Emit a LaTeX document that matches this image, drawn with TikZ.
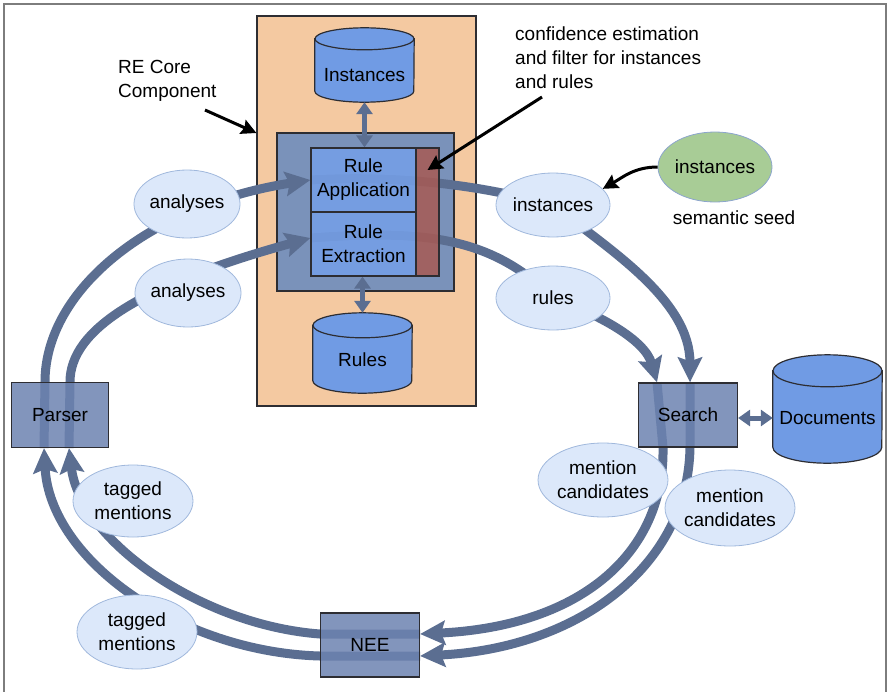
\documentclass[tikz,border=0pt]{standalone}
\usepackage{fontspec}
\setmainfont{Liberation Sans}
\usetikzlibrary{shapes.geometric,arrows.meta,calc}

\pgfdeclarelayer{back}
\pgfdeclarelayer{mid}
\pgfdeclarelayer{flow}
\pgfsetlayers{back,mid,flow,main}

\definecolor{flowc}{RGB}{91,110,145}
\definecolor{boxc}{RGB}{108,131,176}
\definecolor{enginec}{RGB}{122,146,186}
\definecolor{rulec}{RGB}{117,160,233}
\definecolor{barc}{RGB}{167,90,83}
\definecolor{cylc}{RGB}{112,155,228}
\definecolor{corec}{RGB}{244,201,161}
\definecolor{bubc}{RGB}{220,232,250}
\definecolor{bubline}{RGB}{160,184,220}
\definecolor{seedc}{RGB}{168,204,150}
\definecolor{seedline}{RGB}{140,165,205}
\definecolor{framec}{RGB}{125,125,125}
\definecolor{edgec}{RGB}{45,45,50}

% cylinder body behind a named (invisible) rectangle node: #1 name, #2 half width, #3 cap radius
\newcommand\drawcylinder[3]{%
  \begin{pgfonlayer}{mid}
    \filldraw[fill=cylc, draw=edgec, line width=1.2pt]
      ($(#1.north west)+(0,-#3)$) -- ($(#1.south west)+(0,#3)$)
      arc[start angle=180, end angle=360, x radius=#2, y radius=#3]
      -- ($(#1.north east)+(0,-#3)$) -- cycle;
    \filldraw[fill=cylc, draw=edgec, line width=1.2pt]
      ($(#1.north)+(0,-#3)$) ellipse[x radius=#2, y radius=#3];
  \end{pgfonlayer}}

\tikzset{
  block/.style={draw=edgec, line width=1.2pt, fill=boxc, fill opacity=0.85,
    text opacity=1, draw opacity=1, inner sep=0pt},
  rulebox/.style={block, fill=rulec, align=center},
  bubble/.style={ellipse, draw=bubline, line width=0.8pt, fill=bubc,
    inner sep=0pt, align=center},
  cylbody/.style={draw=none, inner sep=0pt},
  flowline/.style={draw=flowc, line width=9pt},
  flow/.style={flowline, -{Stealth[length=25pt,width=24pt,inset=4pt]}},
  dbl/.style={draw=flowc, line width=5pt,
    {Triangle[length=12pt,width=16pt]}-{Triangle[length=12pt,width=16pt]}},
  note/.style={draw=black, line width=3pt, -{Stealth[length=15pt,width=15pt,inset=2pt]}},
}

\begin{document}
\begin{tikzpicture}[x=1pt, y=1pt, font=\fontsize{19}{24}\selectfont]
\useasboundingbox (0,0) rectangle (889,-691);

% outer frame and the core component panel
\begin{pgfonlayer}{back}
  \draw[framec, line width=2pt] (4,-4) rectangle (886,-720);
  \node[draw=edgec, line width=1.2pt, fill=corec, minimum width=219pt,
    minimum height=390pt, inner sep=0pt] (core) at (366.5,-211) {};
\end{pgfonlayer}

% rule engine
\begin{pgfonlayer}{mid}
  \node[draw=edgec, line width=1.2pt, fill=enginec, minimum width=177pt,
    minimum height=158pt, inner sep=0pt] (engine) at (365.5,-212) {};
\end{pgfonlayer}
\node[rulebox, minimum width=105pt, minimum height=64pt] (ruleapp) at (363.5,-180) {Rule\\Application};
\node[rulebox, minimum width=105pt, minimum height=64pt] (ruleext) at (363.5,-244) {Rule\\Extraction};
\node[block, fill=barc, minimum width=23pt, minimum height=128pt] (filter) at (427.5,-212) {};

% stores
\node[cylbody, minimum width=99pt, minimum height=74pt] (instcyl) at (364.5,-65) {};
\drawcylinder{instcyl}{49.5pt}{11pt}
\node (insttxt) at (364.5,-75) {Instances};

\node[cylbody, minimum width=99pt, minimum height=80pt] (rulescyl) at (362.5,-353) {};
\drawcylinder{rulescyl}{49.5pt}{12.5pt}
\node (rulestxt) at (362.5,-360) {Rules};

\node[cylbody, minimum width=109pt, minimum height=108pt] (docs) at (827.5,-409) {};
\drawcylinder{docs}{54.5pt}{16pt}
\node (docstxt) at (827.5,-418) {Documents};

% processing steps
\node[block, minimum width=97pt, minimum height=65pt] (parser) at (60,-415) {Parser};
\node[block, minimum width=99pt, minimum height=64pt] (search) at (688,-415) {Search};
\node[block, minimum width=99pt, minimum height=64pt] (nee) at (370,-645) {NEE};

% data passed along the loop
\node[bubble, minimum width=104pt, minimum height=68pt] (an1) at (187,-204) {analyses};
\node[bubble, minimum width=102pt, minimum height=68pt] (an2) at (188,-293) {analyses};
\node[bubble, minimum width=114pt, minimum height=64pt] (instE) at (553,-205) {instances};
\node[bubble, minimum width=114pt, minimum height=64pt] (rulesE) at (553,-298) {rules};
\node[bubble, minimum width=124pt, minimum height=74pt] (mc1) at (603,-480) {mention\\candidates};
\node[bubble, minimum width=126pt, minimum height=76pt] (mc2) at (730,-508) {mention\\candidates};
\node[bubble, minimum width=120pt, minimum height=72pt] (tm1) at (133,-501) {tagged\\mentions};
\node[bubble, minimum width=120pt, minimum height=74pt] (tm2) at (137,-632) {tagged\\mentions};
\node[bubble, fill=seedc, draw=seedline, minimum width=114pt, minimum height=70pt] (seed) at (715,-167) {instances};

% annotations
\node (seedlbl) at (734,-218) {semantic seed};
\node[align=left, anchor=west, inner sep=0pt] (corelbl) at (118,-80.5) {RE Core\\Component};
\node[align=left, anchor=west, inner sep=0pt] (conflbl) at (515,-58) {confidence estimation\\and filter for instances\\and rules};
\coordinate (corestart) at (205,-110);
\coordinate (confstart) at (542,-97);

\begin{pgfonlayer}{flow}
  % Parser -> rule engine
  \draw[flow] ([xshift=-16pt]parser.south) -- ([xshift=-15pt]parser.north)
    .. controls (45,-290) and (150,-205) .. (ruleapp.west);
  \draw[flow] ([xshift=9pt]parser.south) -- ([xshift=10pt]parser.north)
    .. controls (70,-330) and (140,-285) .. ([yshift=6pt]ruleext.west);
  % rule engine -> Search
  \draw[flowline] (ruleapp.west) .. controls (400,-175) and (480,-185) .. (instE.center);
  \draw[flow] (instE.center) .. controls (610,-250) and (690,-300) .. ([xshift=2pt]search.north);
  \draw[flowline] ([yshift=6pt]ruleext.west) .. controls (420,-230) and (490,-235) .. (rulesE.center);
  \draw[flow] (rulesE.center) .. controls (600,-315) and (645,-340) .. ([xshift=-31pt]search.north);
  % Search -> NEE
  \draw[flow] ([xshift=2pt]search.north) -- ([xshift=2pt]search.south)
    .. controls (688,-565) and (580,-648) .. ([yshift=-11pt]nee.east);
  \draw[flow] ([xshift=-31pt]search.north) -- ([xshift=-25pt]search.south)
    .. controls (665,-550) and (585,-626) .. ([yshift=11pt]nee.east);
  % NEE -> Parser
  \draw[flow] ([yshift=11pt]nee.east) -- ([yshift=11pt]nee.west)
    .. controls (200,-625) and (80,-540) .. ([xshift=9pt]parser.south);
  \draw[flow] ([yshift=-11pt]nee.east) -- ([yshift=-11pt]nee.west)
    .. controls (180,-652) and (50,-560) .. ([xshift=-16pt]parser.south);
  % store access
  \draw[dbl] (instcyl.south) -- (instcyl.south |- ruleapp.north);
  \draw[dbl] (rulescyl.north |- ruleext.south) -- (rulescyl.north);
  \draw[dbl] ([yshift=-3pt]search.east) -- ([yshift=-3pt]search.east -| docs.west);
\end{pgfonlayer}

% pointers
\draw[note] (corestart) -- ([yshift=78pt]core.west);
\draw[note] (confstart) -- ([yshift=42pt]filter.center);
\draw[note] (seed.west) to[out=180, in=30] (instE.18);
\end{tikzpicture}
\end{document}
